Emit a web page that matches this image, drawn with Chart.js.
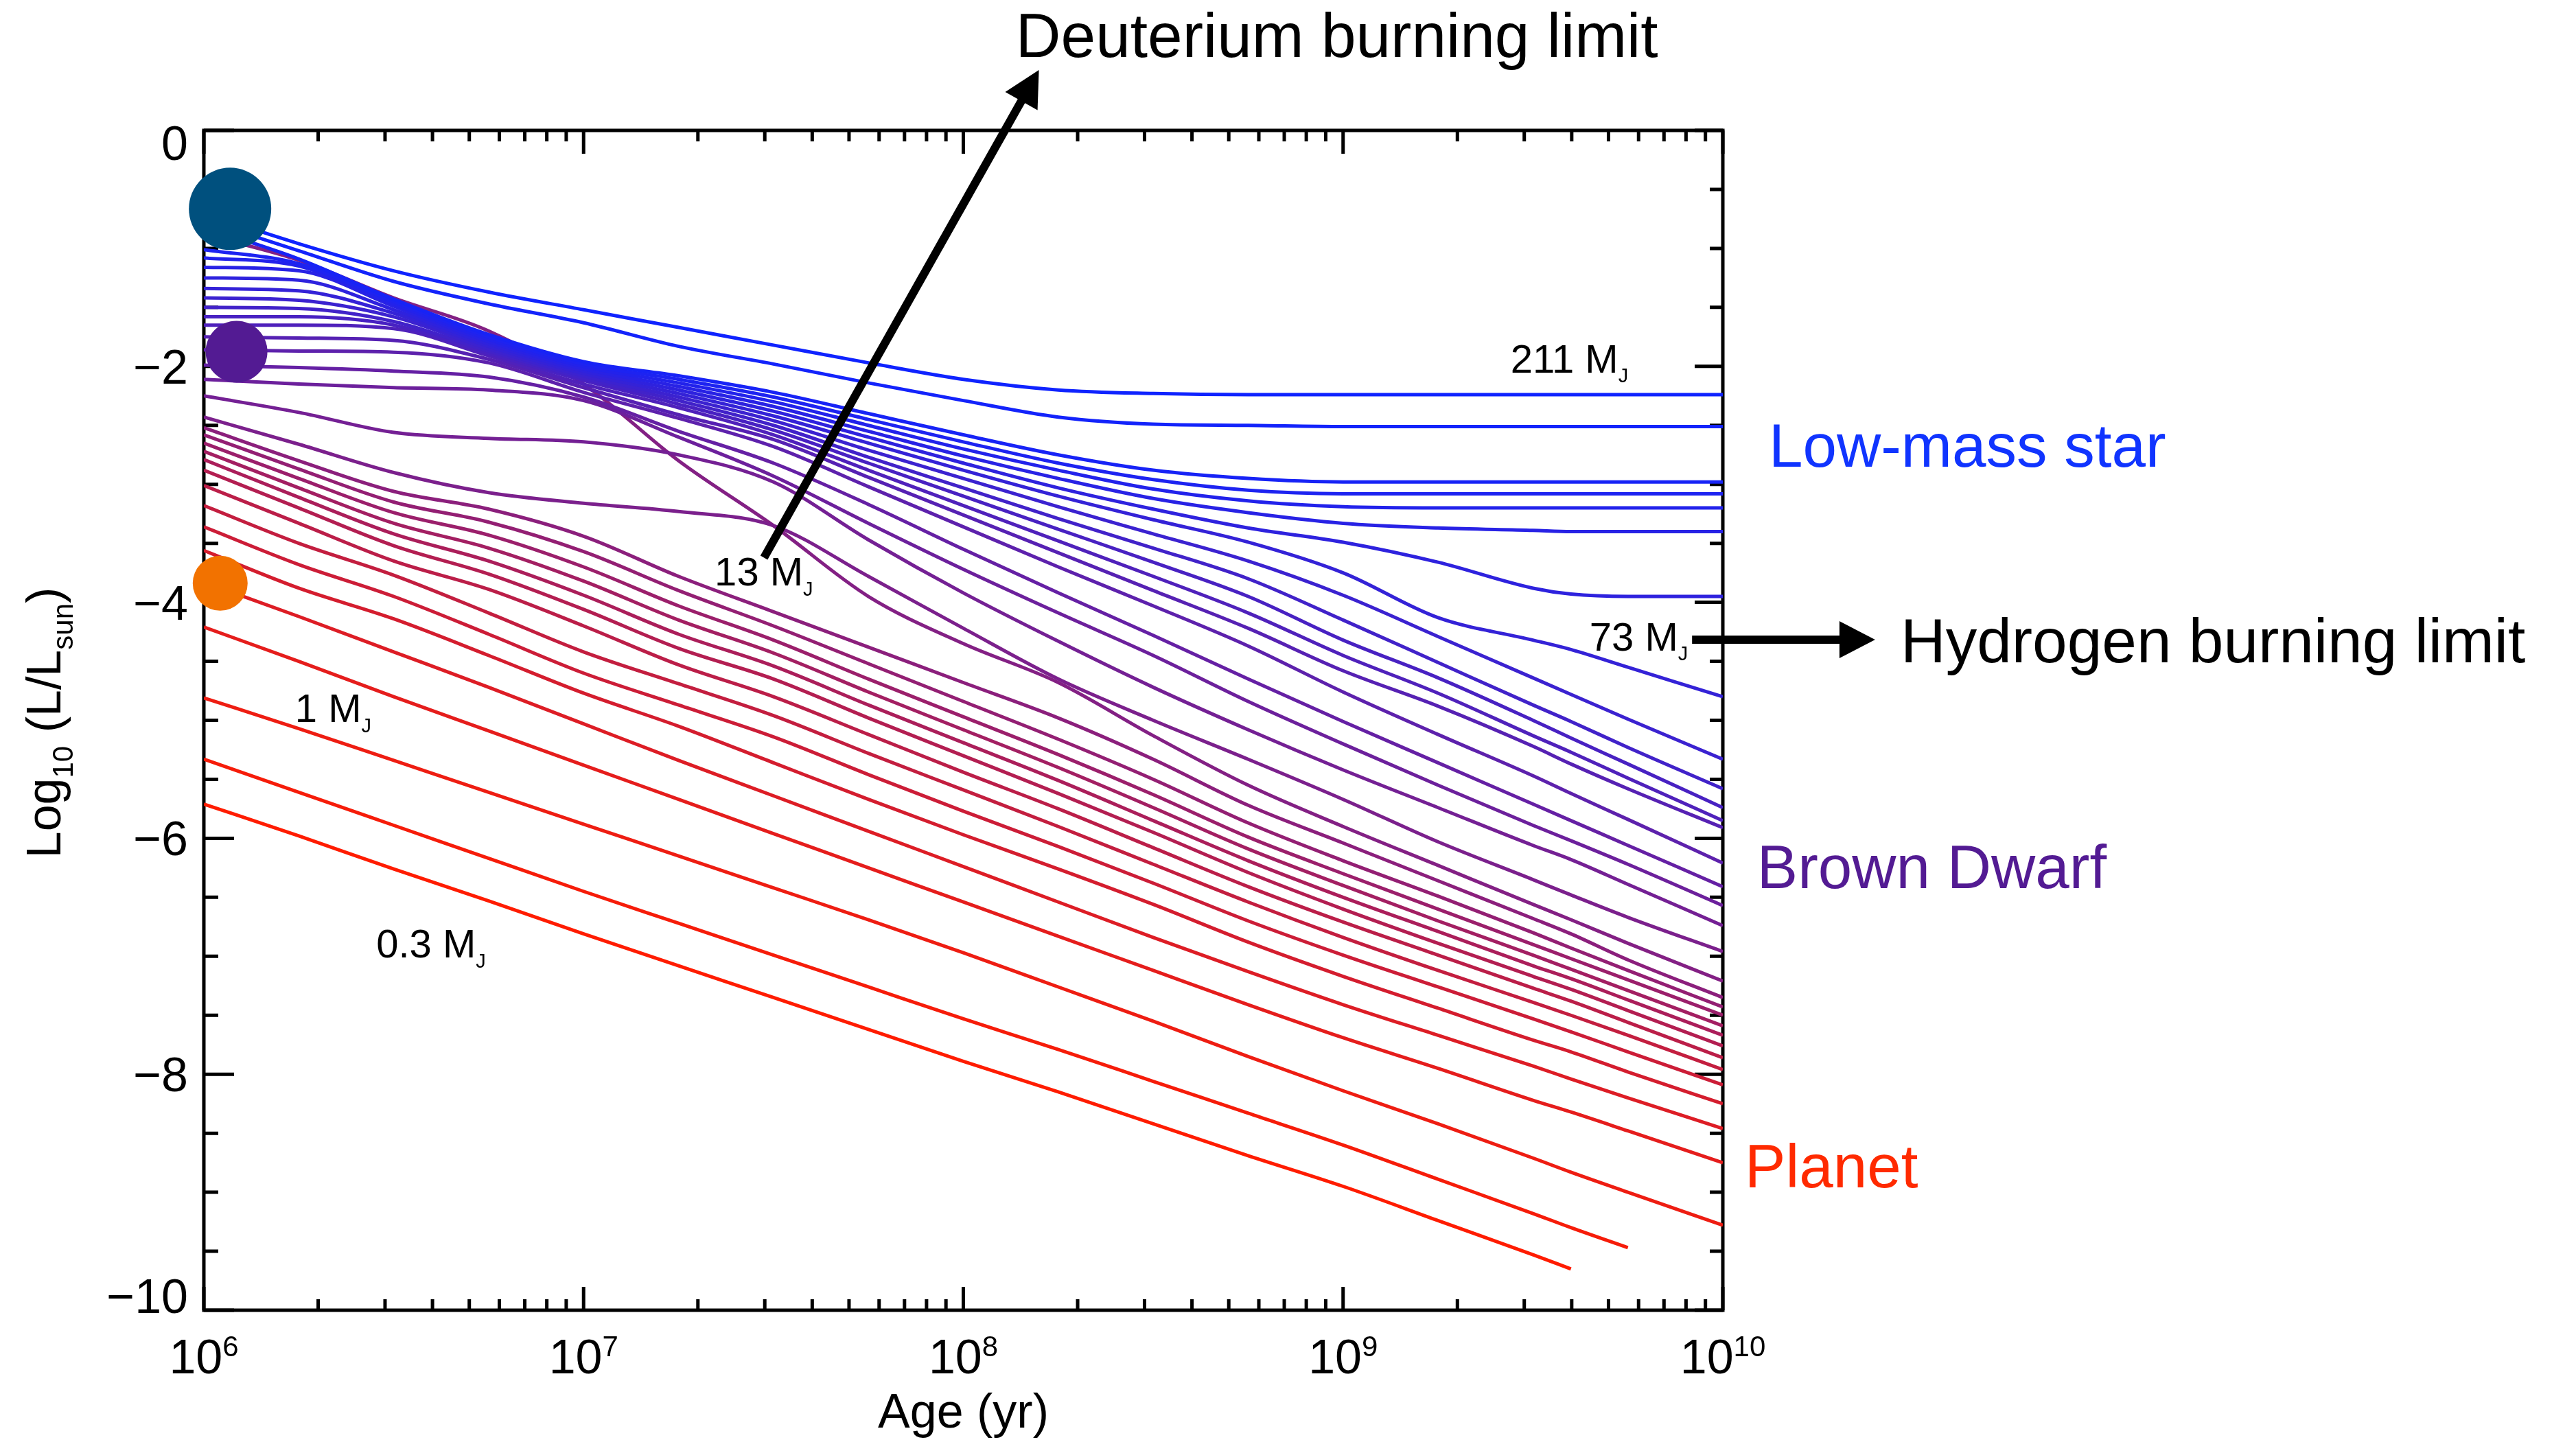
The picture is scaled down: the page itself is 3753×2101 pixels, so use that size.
<!DOCTYPE html>
<html>
<head>
<meta charset="utf-8">
<title>Luminosity evolution of stars, brown dwarfs and planets</title>
<script src="https://cdn.jsdelivr.net/npm/chart.js@4.4.1/dist/chart.umd.min.js"></script>
<style>
  html, body { margin: 0; padding: 0; background: #fff; }
  #wrap { width: 3753px; height: 2101px; }
</style>
</head>
<body>
<div id="wrap"><canvas id="lumChart" width="3753" height="2101"></canvas></div>
<script>
// log10(age / yr) at which every track is sampled
const logAges = [6.0, 6.25, 6.5, 6.75, 7.0, 7.25, 7.5, 7.75, 8.0, 8.25, 8.5, 8.75, 9.0, 9.25, 9.5, 9.6, 9.75, 10.0];

// log10(L/Lsun) per track, heaviest first (211 MJ on top)
const starTracks = [
  [-0.70, -0.96, -1.19, -1.37, -1.52, -1.67, -1.82, -1.97, -2.11, -2.20, -2.23, -2.24, -2.24, -2.24, -2.24, -2.24, -2.24, -2.24],
  [-0.76, -1.02, -1.28, -1.47, -1.63, -1.83, -1.98, -2.14, -2.29, -2.43, -2.49, -2.50, -2.51, -2.51, -2.51, -2.51, -2.51, -2.51],
  [-0.82, -1.09, -1.43, -1.73, -1.96, -2.08, -2.22, -2.40, -2.58, -2.75, -2.88, -2.95, -2.98, -2.98, -2.98, -2.98, -2.98, -2.98],
  [-1.01, -1.13, -1.45, -1.75, -1.98, -2.11, -2.26, -2.45, -2.64, -2.82, -2.96, -3.05, -3.08, -3.08, -3.08, -3.08, -3.08, -3.08],
  [-1.08, -1.15, -1.47, -1.77, -2.00, -2.14, -2.30, -2.50, -2.70, -2.88, -3.04, -3.14, -3.19, -3.20, -3.20, -3.20, -3.20, -3.20],
  [-1.16, -1.19, -1.49, -1.79, -2.02, -2.17, -2.34, -2.55, -2.76, -2.95, -3.12, -3.24, -3.33, -3.37, -3.39, -3.40, -3.40, -3.40],
  [-1.25, -1.27, -1.52, -1.81, -2.04, -2.20, -2.38, -2.60, -2.82, -3.03, -3.21, -3.37, -3.49, -3.66, -3.88, -3.93, -3.95, -3.95]
];
const dwarfTracks = [
  [-1.34, -1.36, -1.55, -1.83, -2.06, -2.23, -2.42, -2.65, -2.88, -3.10, -3.30, -3.49, -3.75, -4.13, -4.32, -4.40, -4.55, -4.80],
  [-1.42, -1.44, -1.58, -1.85, -2.08, -2.26, -2.46, -2.71, -2.95, -3.19, -3.42, -3.65, -3.94, -4.29, -4.64, -4.78, -4.99, -5.33],
  [-1.50, -1.51, -1.62, -1.87, -2.10, -2.29, -2.50, -2.77, -3.03, -3.29, -3.54, -3.80, -4.15, -4.51, -4.87, -5.01, -5.23, -5.58],
  [-1.58, -1.58, -1.65, -1.89, -2.12, -2.32, -2.54, -2.82, -3.10, -3.38, -3.66, -3.95, -4.32, -4.64, -5.00, -5.15, -5.37, -5.74],
  [-1.65, -1.65, -1.68, -1.91, -2.15, -2.35, -2.58, -2.88, -3.18, -3.48, -3.78, -4.09, -4.45, -4.77, -5.13, -5.27, -5.49, -5.85],
  [-1.75, -1.76, -1.78, -1.94, -2.18, -2.41, -2.62, -2.94, -3.26, -3.58, -3.90, -4.22, -4.58, -4.88, -5.22, -5.37, -5.58, -5.91],
  [-1.86, -1.87, -1.88, -1.97, -2.22, -2.44, -2.68, -3.02, -3.36, -3.70, -4.03, -4.37, -4.76, -5.12, -5.47, -5.62, -5.84, -6.21],
  [-1.99, -2.01, -2.04, -2.09, -2.26, -2.55, -2.82, -3.17, -3.55, -3.92, -4.28, -4.65, -5.01, -5.36, -5.71, -5.85, -6.06, -6.41],
  [-2.11, -2.15, -2.18, -2.20, -2.29, -2.60, -2.93, -3.33, -3.72, -4.09, -4.45, -4.84, -5.20, -5.55, -5.89, -6.02, -6.22, -6.57],
  [-2.25, -2.39, -2.56, -2.61, -2.64, -2.75, -2.98, -3.47, -3.92, -4.33, -4.72, -5.08, -5.42, -5.74, -6.06, -6.18, -6.39, -6.74],
  [-2.43, -2.66, -2.90, -3.07, -3.16, -3.23, -3.35, -3.78, -4.22, -4.65, -5.00, -5.33, -5.67, -6.03, -6.35, -6.48, -6.67, -6.96],
  [-0.88, -1.10, -1.42, -1.70, -2.15, -2.80, -3.35, -3.95, -4.35, -4.68, -5.13, -5.55, -5.90, -6.23, -6.56, -6.69, -6.89, -7.21]
];
const planetTracks = [
  [-2.52, -2.80, -3.06, -3.21, -3.44, -3.78, -4.08, -4.38, -4.68, -4.98, -5.33, -5.72, -6.04, -6.36, -6.68, -6.81, -7.03, -7.35],
  [-2.58, -2.87, -3.15, -3.32, -3.57, -3.90, -4.20, -4.52, -4.84, -5.16, -5.50, -5.87, -6.19, -6.49, -6.80, -6.93, -7.12, -7.43],
  [-2.65, -2.95, -3.24, -3.43, -3.70, -4.03, -4.32, -4.65, -4.97, -5.29, -5.63, -5.99, -6.30, -6.60, -6.90, -7.02, -7.20, -7.50],
  [-2.72, -3.03, -3.33, -3.54, -3.82, -4.15, -4.43, -4.76, -5.08, -5.40, -5.74, -6.09, -6.40, -6.70, -6.99, -7.11, -7.29, -7.59],
  [-2.79, -3.11, -3.42, -3.65, -3.94, -4.27, -4.54, -4.87, -5.19, -5.51, -5.85, -6.19, -6.50, -6.79, -7.08, -7.19, -7.37, -7.67],
  [-2.88, -3.20, -3.52, -3.76, -4.06, -4.39, -4.65, -4.98, -5.30, -5.62, -5.95, -6.29, -6.60, -6.89, -7.17, -7.28, -7.46, -7.76],
  [-3.01, -3.33, -3.65, -3.89, -4.20, -4.53, -4.80, -5.12, -5.44, -5.75, -6.08, -6.41, -6.71, -6.99, -7.27, -7.38, -7.56, -7.86],
  [-3.18, -3.50, -3.77, -4.09, -4.42, -4.69, -4.96, -5.28, -5.59, -5.90, -6.22, -6.54, -6.84, -7.12, -7.39, -7.50, -7.67, -7.96],
  [-3.36, -3.68, -3.95, -4.27, -4.60, -4.87, -5.14, -5.46, -5.77, -6.07, -6.38, -6.70, -6.99, -7.26, -7.53, -7.64, -7.81, -8.09],
  [-3.56, -3.88, -4.14, -4.45, -4.77, -5.05, -5.36, -5.67, -5.97, -6.26, -6.56, -6.88, -7.17, -7.44, -7.71, -7.81, -7.98, -8.25],
  [-3.83, -4.12, -4.42, -4.72, -5.03, -5.34, -5.64, -5.94, -6.24, -6.54, -6.84, -7.13, -7.41, -7.67, -7.93, -8.04, -8.20, -8.46],
  [-4.21, -4.50, -4.80, -5.09, -5.38, -5.67, -5.96, -6.25, -6.54, -6.83, -7.12, -7.41, -7.69, -7.95, -8.22, -8.32, -8.48, -8.75],
  [-4.81, -5.07, -5.34, -5.61, -5.88, -6.15, -6.42, -6.69, -6.97, -7.26, -7.55, -7.85, -8.14, -8.42, -8.71, -8.83, -9.00, -9.28],
  [-5.33, -5.61, -5.89, -6.17, -6.45, -6.72, -6.99, -7.26, -7.53, -7.79, -8.06, -8.33, -8.60, -8.89, -9.18, -9.30, -9.47, null],
  [-5.71, -5.98, -6.26, -6.53, -6.81, -7.08, -7.35, -7.62, -7.89, -8.15, -8.42, -8.69, -8.95, -9.24, -9.53, -9.65, null, null]
];

// the three big dots at the start of the tracks
const markerLogAges = [6.069, 6.086, 6.043];
const markerLums = [-0.665, -1.876, -3.838];

// axis ticks
const xLabelExponents = [6, 7, 8, 9, 10];
const xMinorSteps = [2, 3, 4, 5, 6, 7, 8, 9];
const yLabelValues = [0, -2, -4, -6, -8, -10];
const yMinorStep = 0.5;

const SANS = '"Liberation Sans", Arial, Helvetica, sans-serif';
const markerColors = ['#00507e', '#531b93', '#f27200'];
const markerSizes = [60, 45, 40];

// texts placed in data units: [log age, log L]
const notes = [
  { parts: [['Deuterium burning limit']], at: [8.138, 0.622], size: 91, color: '#000' },
  { parts: [['Hydrogen burning limit']], at: [10.468, -4.508], size: 91, color: '#000' },
  { parts: [['Low-mass star']], at: [10.121, -2.85], size: 89, color: '#1034ff' },
  { parts: [['Brown Dwarf']], at: [10.09, -6.422], size: 89, color: '#531b93' },
  { parts: [['Planet']], at: [10.058, -8.959], size: 89, color: '#ff2a00' },
  { parts: [['211 M'], ['J', 'sub']], at: [9.441, -2.053], size: 58, color: '#000' },
  { parts: [['73 M'], ['J', 'sub']], at: [9.649, -4.409], size: 58, color: '#000' },
  { parts: [['13 M'], ['J', 'sub']], at: [7.345, -3.857], size: 58, color: '#000' },
  { parts: [['1 M'], ['J', 'sub']], at: [6.24, -5.015], size: 58, color: '#000' },
  { parts: [['0.3 M'], ['J', 'sub']], at: [6.454, -7.01], size: 58, color: '#000' }
];
const arrows = [
  { from: [7.475, -3.621], to: [8.199, 0.512] },
  { from: [9.919, -4.316], to: [10.401, -4.316] }
];

// blue for the heaviest track, through purple, to red for the lightest
function trackColor(i, n) {
  const t = Math.pow(i / (n - 1), 1.2);
  const r = Math.round(15 + t * 240);
  const g = Math.round(35 - t * 7);
  const b = Math.round(255 * (1 - t));
  return `rgb(${r},${g},${b})`;
}

function drawRich(ctx, parts, x, y, size, align, color, small) {
  const k = small || 0.55;
  const fontOf = (kind) => (kind ? Math.round(size * k) : size) + 'px ' + SANS;
  let w = 0;
  for (const [t, kind] of parts) {
    ctx.font = fontOf(kind);
    w += ctx.measureText(t).width;
  }
  let cx = x;
  if (align === 'center') cx = x - w / 2;
  if (align === 'right') cx = x - w;
  ctx.fillStyle = color || '#000';
  ctx.textAlign = 'left';
  ctx.textBaseline = 'alphabetic';
  for (const [t, kind] of parts) {
    ctx.font = fontOf(kind);
    let dy = 0;
    if (kind === 'sub') dy = size * 0.25;
    if (kind === 'sup') dy = -size * 0.36;
    ctx.fillText(t, cx, y + dy);
    cx += ctx.measureText(t).width;
  }
}

const allTracks = [...starTracks, ...dwarfTracks, ...planetTracks];

const datasets = [{
  label: 'start',
  data: markerLogAges.map((a, i) => ({ x: 10 ** a, y: markerLums[i] })),
  pointRadius: markerSizes,
  pointBackgroundColor: markerColors,
  pointBorderWidth: 0,
  showLine: false,
  clip: false,
  order: 0
}];
allTracks.forEach((lums, i) => {
  const pts = [];
  lums.forEach((v, j) => {
    if (v !== null) pts.push({ x: 10 ** logAges[j], y: v });
  });
  datasets.push({
    label: 'track ' + i,
    data: pts,
    showLine: true,
    borderColor: trackColor(i, allTracks.length),
    borderWidth: 5,
    borderJoinStyle: 'round',
    pointRadius: 0,
    cubicInterpolationMode: 'monotone',
    clip: 0,
    order: 1
  });
});

// frame with inward ticks on all four sides
const frameTicks = {
  id: 'frameTicks',
  beforeDatasetsDraw(chart) {
    const { ctx, chartArea: a, scales: { x, y } } = chart;
    ctx.save();
    ctx.strokeStyle = '#000';
    ctx.lineWidth = 5;
    ctx.strokeRect(a.left, a.top, a.right - a.left, a.bottom - a.top);
    ctx.beginPath();
    for (const e of xLabelExponents) {
      const px = x.getPixelForValue(10 ** e);
      ctx.moveTo(px, a.bottom); ctx.lineTo(px, a.bottom - 34);
      ctx.moveTo(px, a.top); ctx.lineTo(px, a.top + 34);
      if (e === 10) continue;
      for (const m of xMinorSteps) {
        const mx = x.getPixelForValue(m * 10 ** e);
        ctx.moveTo(mx, a.bottom); ctx.lineTo(mx, a.bottom - 16);
        ctx.moveTo(mx, a.top); ctx.lineTo(mx, a.top + 16);
      }
    }
    for (let v = 0; v >= -10; v -= yMinorStep) {
      const py = y.getPixelForValue(v);
      const major = yLabelValues.includes(v);
      ctx.moveTo(a.left, py); ctx.lineTo(a.left + (major ? 44 : 21), py);
      ctx.moveTo(a.right, py); ctx.lineTo(a.right - (major ? 41 : 19), py);
    }
    ctx.stroke();
    ctx.restore();
  },
  afterDraw(chart) {
    const { ctx, chartArea: a, scales: { x, y } } = chart;
    ctx.save();
    // tick labels
    for (const e of xLabelExponents) {
      drawRich(ctx, [['10'], [String(e), 'sup']], x.getPixelForValue(10 ** e), a.bottom + 92, 70, 'center', '#000', 0.6);
    }
    for (const v of yLabelValues) {
      const base = Math.min(Math.max(y.getPixelForValue(v) + 25, a.top + 43), a.bottom + 4);
      const txt = v === 0 ? '0' : '\u2212' + Math.abs(v);
      drawRich(ctx, [[txt]], a.left - 23, base, 70, 'right', '#000');
    }
    // axis titles
    drawRich(ctx, [['Age (yr)']], (a.left + a.right) / 2, 2080, 70, 'center', '#000');
    ctx.save();
    ctx.translate(88, 1053);
    ctx.rotate(-Math.PI / 2);
    drawRich(ctx, [['Log'], ['10', 'sub'], [' (L/L'], ['sun', 'sub'], [')']], 0, 0, 70, 'center', '#000', 0.6);
    ctx.restore();
    // arrows
    ctx.fillStyle = '#000';
    ctx.strokeStyle = '#000';
    for (const ar of arrows) {
      const x0 = x.getPixelForValue(10 ** ar.from[0]), y0 = y.getPixelForValue(ar.from[1]);
      const x1 = x.getPixelForValue(10 ** ar.to[0]), y1 = y.getPixelForValue(ar.to[1]);
      const len = Math.hypot(x1 - x0, y1 - y0);
      const ux = (x1 - x0) / len, uy = (y1 - y0) / len;
      const bx = x1 - ux * 52, by = y1 - uy * 52;
      ctx.lineWidth = 12;
      ctx.beginPath();
      ctx.moveTo(x0, y0); ctx.lineTo(bx + ux * 4, by + uy * 4);
      ctx.stroke();
      ctx.beginPath();
      ctx.moveTo(x1, y1);
      ctx.lineTo(bx - uy * 27, by + ux * 27);
      ctx.lineTo(bx + uy * 27, by - ux * 27);
      ctx.closePath();
      ctx.fill();
    }
    // text notes
    for (const n of notes) {
      drawRich(ctx, n.parts, x.getPixelForValue(10 ** n.at[0]), y.getPixelForValue(n.at[1]), n.size, 'left', n.color, 0.5);
    }
    ctx.restore();
  }
};

new Chart(document.getElementById('lumChart'), {
  type: 'scatter',
  data: { datasets: datasets },
  options: {
    responsive: false,
    animation: false,
    devicePixelRatio: 1,
    events: [],
    layout: { padding: { left: 0, top: 190, right: 1243, bottom: 0 } },
    plugins: { legend: { display: false }, tooltip: { enabled: false } },
    scales: {
      x: {
        type: 'logarithmic',
        min: 1e6,
        max: 1e10,
        ticks: { display: false },
        grid: { display: false, drawTicks: false },
        border: { display: false },
        afterFit: (s) => { s.height = 192; }
      },
      y: {
        type: 'linear',
        min: -10,
        max: 0,
        ticks: { display: false },
        grid: { display: false, drawTicks: false },
        border: { display: false },
        afterFit: (s) => { s.width = 297; }
      }
    }
  },
  plugins: [frameTicks]
});
</script>
</body>
</html>
